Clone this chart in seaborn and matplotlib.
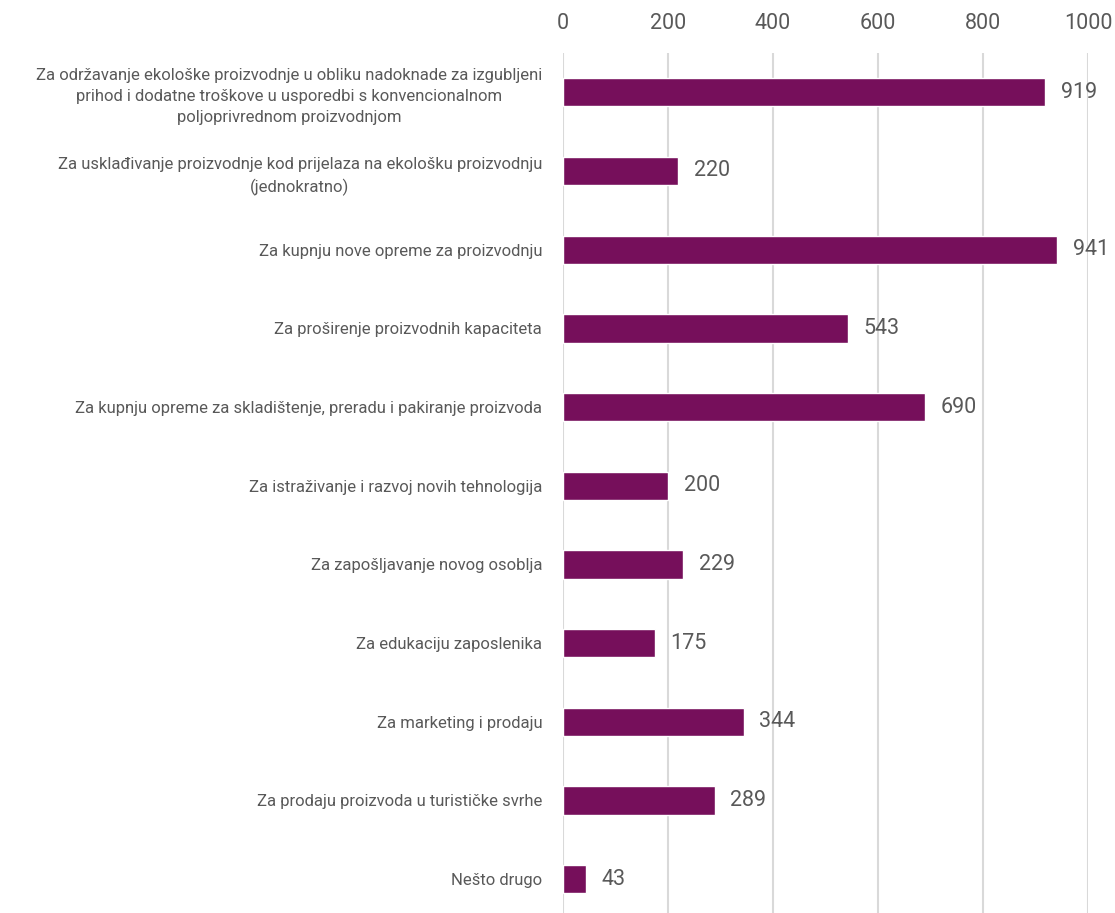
import matplotlib
matplotlib.use("Agg")
import matplotlib.pyplot as plt
import seaborn as sns
import pandas as pd

categories = [
    "Za održavanje ekološke proizvodnje u obliku nadoknade za izgubljeni\nprihod i dodatne troškove u usporedbi s konvencionalnom\npoljoprivrednom proizvodnjom",
    "Za usklađivanje proizvodnje kod prijelaza na ekološku proizvodnju\n(jednokratno)",
    "Za kupnju nove opreme za proizvodnju",
    "Za proširenje proizvodnih kapaciteta",
    "Za kupnju opreme za skladištenje, preradu i pakiranje proizvoda",
    "Za istraživanje i razvoj novih tehnologija",
    "Za zapošljavanje novog osoblja",
    "Za edukaciju zaposlenika",
    "Za marketing i prodaju",
    "Za prodaju proizvoda u turističke svrhe",
    "Nešto drugo",
]
values = [919, 220, 941, 543, 690, 200, 229, 175, 344, 289, 43]
xticks = [0, 200, 400, 600, 800, 1000]

df = pd.DataFrame({"cat": categories, "val": values})

sns.set_theme(style="white")
plt.rcParams["font.family"] = ["Roboto", "DejaVu Sans"]

bar_color = "#760F5B"
text_color = "#595959"

fig = plt.figure(figsize=(11.15, 9.13), dpi=100)
ax = fig.add_axes([563 / 1115, -0.006, 525 / 1115, 0.948])

sns.barplot(data=df, y="cat", x="val", color=bar_color, width=0.36,
            saturation=1, ax=ax, orient="h")

ax.set_xlim(0, 1000)
ax.set_ylim(len(categories) - 0.5, -0.5)
ax.set_xticks(xticks)
ax.xaxis.tick_top()
ax.tick_params(axis="x", length=0, labelsize=15.5, labelcolor=text_color, pad=14)
ax.tick_params(axis="y", length=0, labelsize=12, labelcolor=text_color, pad=15)
for lbl in ax.get_yticklabels():
    lbl.set_multialignment("center")
    lbl.set_linespacing(1.5)
ax.grid(axis="x", color="#D9D9D9", linewidth=1.5)
ax.set_axisbelow(True)
for s in ax.spines.values():
    s.set_visible(False)
ax.set_xlabel("")
ax.set_ylabel("")

for i, v in enumerate(values):
    ax.text(v + 30, i, str(v), va="center", ha="left", fontsize=15.5, color=text_color)

fig.savefig("out.png", dpi=100)
